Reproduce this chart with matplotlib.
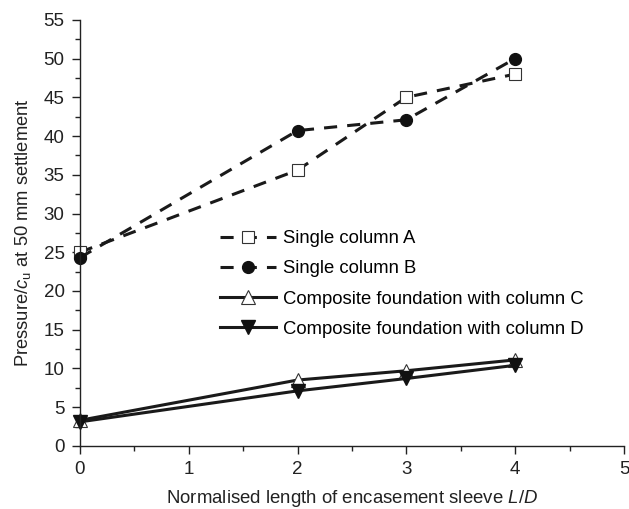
import matplotlib.pyplot as plt
from matplotlib.ticker import MultipleLocator

plt.rcParams['font.family'] = ['Liberation Sans', 'DejaVu Sans']
plt.rcParams['mathtext.fontset'] = 'custom'
plt.rcParams['mathtext.it'] = 'Liberation Sans:italic'
plt.rcParams['mathtext.rm'] = 'Liberation Sans'

x = [0, 2, 3, 4]
col_a = [25.0, 35.6, 45.0, 48.0]
col_b = [24.3, 40.7, 42.1, 50.0]
comp_c = [3.3, 8.5, 9.7, 11.1]
comp_d = [3.1, 7.1, 8.7, 10.4]
labels = ['Single column A', 'Single column B',
          'Composite foundation with column C', 'Composite foundation with column D']
xlabel = 'Normalised length of encasement sleeve $L$/$D$'
ylabel = 'Pressure/$c_\\mathrm{u}$ at 50 mm settlement'

fig = plt.figure(figsize=(6.29, 5.09), dpi=100)
ax = fig.add_axes([0.127, 0.124, 0.865, 0.837])
renderer = fig.canvas.get_renderer()


def fit_size(s, target_px):
    # font size whose rendered width matches the width seen in the reference
    t = fig.text(0, 0, s, fontsize=10)
    w = t.get_window_extent(renderer).width
    t.remove()
    return 10 * target_px / w


lw = 2.2
dash = (0, (4.3, 3.3))
ink = '#1a1a1a'
ax.plot(x, col_a, linestyle=dash, color=ink, lw=lw, marker='s', ms=8,
        mfc='white', mec='#333333', mew=0.8, label=labels[0])
ax.plot(x, col_b, linestyle=dash, color=ink, lw=lw, marker='o', ms=8.5,
        mfc='#111111', mec='#111111', label=labels[1])
ax.plot(x, comp_c, linestyle='-', color=ink, lw=lw, marker='^', ms=10,
        mfc='white', mec='#333333', mew=0.8, label=labels[2])
ax.plot(x, comp_d, linestyle='-', color=ink, lw=lw, marker='v', ms=10,
        mfc='#111111', mec='#111111', label=labels[3])
for line in ax.lines:
    line.set_clip_on(False)

ax.set_xlim(0, 5)
ax.set_ylim(0, 55)
ax.xaxis.set_major_locator(MultipleLocator(1))
ax.xaxis.set_minor_locator(MultipleLocator(0.5))
ax.yaxis.set_major_locator(MultipleLocator(5))
ax.yaxis.set_minor_locator(MultipleLocator(2.5))
ax.tick_params(which='both', direction='out', labelsize=13.5, colors='#222222', width=1.0)
ax.tick_params(which='major', length=5.5, pad=5.5)
ax.tick_params(which='minor', length=3.5)
ax.spines['top'].set_visible(False)
ax.spines['right'].set_visible(False)
for s in ('left', 'bottom'):
    ax.spines[s].set_color('#222222')
    ax.spines[s].set_linewidth(1.0)

ax.set_xlabel(xlabel, fontsize=fit_size(xlabel, 372), color='#222222')
ax.set_ylabel(ylabel, fontsize=fit_size(ylabel, 270), color='#222222')
ax.xaxis.set_label_coords(0.5, -0.099)
ax.yaxis.set_label_coords(-0.086, 0.5)

leg_size = fit_size(labels[3], 303)
ax.legend(loc='upper left', bbox_to_anchor=(0.257, 0.506), frameon=False,
          prop={'size': leg_size}, handlelength=56 / (leg_size * 100 / 72),
          handletextpad=0.4, labelspacing=0.71, borderpad=0, borderaxespad=0)

fig.savefig('out.png', dpi=100)
